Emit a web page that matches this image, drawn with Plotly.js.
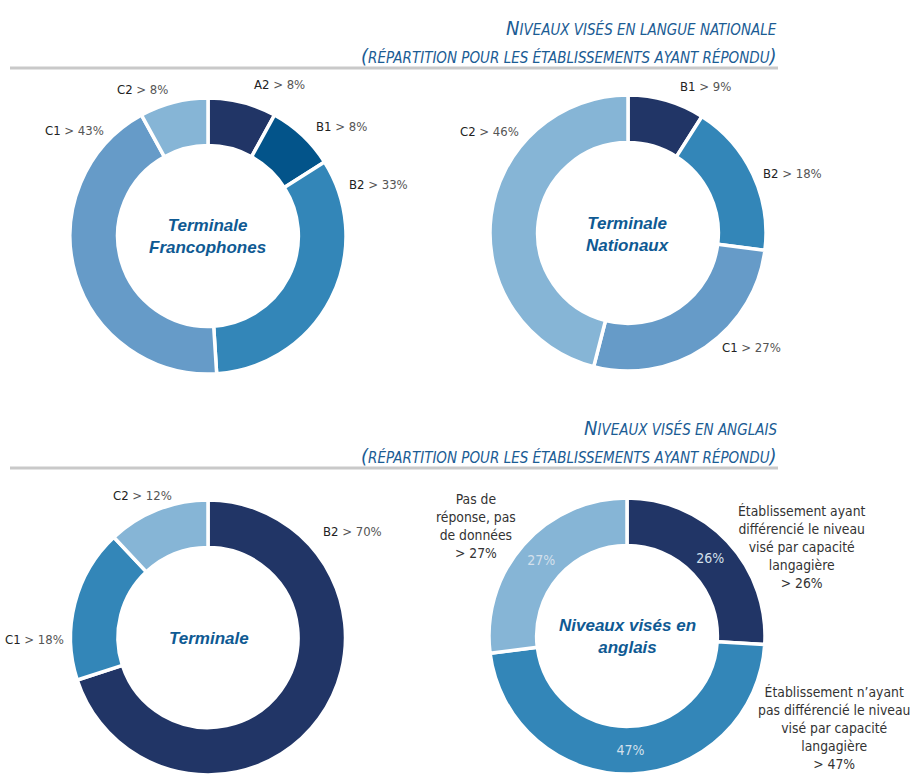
<!DOCTYPE html>
<html>
<head>
<meta charset="utf-8">
<script src="https://cdn.plot.ly/plotly-3.0.1.min.js"></script>
<style>html,body{margin:0;padding:0;background:#fff;overflow:hidden;}#chart{width:912px;height:775px;}</style>
</head>
<body>
<div id="chart"></div>
<script>
// ---- Data ----
const sectionTitles = [
  ['Niveaux visés en langue nationale', '(répartition pour les établissements ayant répondu)'],
  ['Niveaux visés en anglais', '(répartition pour les établissements ayant répondu)']
];

const centerTitle1 = 'Terminale<br>Francophones';
const labels1 = ['A2', 'B1', 'B2', 'C1', 'C2'];
const values1 = [8, 8, 33, 43, 8];

const centerTitle2 = 'Terminale<br>Nationaux';
const labels2 = ['B1', 'B2', 'C1', 'C2'];
const values2 = [9, 18, 27, 46];

const centerTitle3 = 'Terminale';
const labels3 = ['B2', 'C1', 'C2'];
const values3 = [70, 18, 12];

const centerTitle4 = 'Niveaux visés en<br>anglais';
const labels4 = [
  'Établissement ayant<br>différencié le niveau<br>visé par capacité<br>langagière',
  'Établissement n’ayant<br>pas différencié le niveau<br>visé par capacité<br>langagière',
  'Pas de<br>réponse, pas<br>de données'
];
const values4 = [26, 47, 27];

// ---- Styles ----
const W = 912, H = 775;
const NAVY = '#213566', DEEP = '#03548a', MID = '#3386b8', STEEL = '#669bc8', LIGHT = '#86b5d6';
const colors1 = [NAVY, DEEP, MID, STEEL, LIGHT];
const colors2 = [NAVY, MID, STEEL, LIGHT];
const colors3 = [NAVY, MID, LIGHT];
const colors4 = [NAVY, MID, LIGHT];
const NARROW = 'Liberation Sans Narrow, DejaVu Sans Condensed, Arial Narrow, sans-serif';
const TITLE_BLUE = '#1b5c94';

function px(x) { return x / W; }
function py(y) { return 1 - y / H; }

function donut(labels, values, colors, cx, cy, r, extra) {
  const t = {
    type: 'pie', labels: labels, values: values, sort: false, direction: 'clockwise', rotation: 0,
    hole: 0.655,
    marker: { colors: colors, line: { color: '#ffffff', width: 3.5 } },
    textinfo: 'none', hoverinfo: 'label+percent',
    domain: { x: [px(cx - r), px(cx + r)], y: [Math.max(0, py(cy + r)), Math.min(1, py(cy - r))] }
  };
  return Object.assign(t, extra || {});
}

const data = [
  donut(labels1, values1, colors1, 208, 236, 138),
  donut(labels2, values2, colors2, 628, 233, 138),
  donut(labels3, values3, colors3, 208, 638, 138),
  donut(labels4, values4, colors4, 627, 636, 138, {
    textinfo: 'percent', textposition: 'inside', insidetextorientation: 'horizontal',
    texttemplate: '%{value}%',
    insidetextfont: { family: NARROW, size: 14, color: '#d4e0ec' }
  })
];

const annotations = [];
function ann(x, y, text, font, extra) {
  annotations.push(Object.assign({
    xref: 'paper', yref: 'paper', x: px(x), y: py(y), text: text, showarrow: false,
    xanchor: 'center', yanchor: 'middle', font: font
  }, extra || {}));
}

// Section titles (small caps look)
function smallCaps(s, big, small) {
  const up = s.toUpperCase();
  let out = '';
  for (let i = 0; i < s.length; i++) {
    const ch = s[i];
    if (ch !== ch.toLowerCase() || ch === '(' || ch === ')') {
      out += '<span style="font-size:' + big + 'px">' + up[i] + '</span>';
    } else {
      out += up[i];
    }
  }
  return '<span style="font-size:' + small + 'px">' + out + '</span>';
}
const titleFont = { family: NARROW, size: 15, color: TITLE_BLUE, style: 'italic' };
const titleY = [[28, 56], [428, 456]];
sectionTitles.forEach(function (t, k) {
  ann(779, titleY[k][0], smallCaps(t[0], 20, 15), titleFont, { xanchor: 'right' });
  ann(779, titleY[k][1], smallCaps(t[1], 20, 15), titleFont, { xanchor: 'right' });
});

// Center titles
const centerFont = { family: 'Liberation Sans, Arial, sans-serif', size: 17, color: '#0f5a93', style: 'italic', weight: 'bold' };
ann(207, 237, centerTitle1, centerFont);
ann(628, 234, centerTitle2, centerFont);
ann(209, 638, centerTitle3, centerFont);
ann(627, 636, centerTitle4, centerFont);

// Outside slice labels
const labelFont = { family: NARROW, size: 13, color: '#555555' };
function lab(l, v) { return '<span style="color:#222222">' + l + '</span> > ' + v + '%'; }
const pos1 = [[279, 85], [341, 127], [378, 184], [74, 130], [142, 90]];
labels1.forEach(function (l, i) { ann(pos1[i][0], pos1[i][1], lab(l, values1[i]), labelFont); });
const pos2 = [[705, 86], [792, 174], [751, 347], [489, 132]];
labels2.forEach(function (l, i) { ann(pos2[i][0], pos2[i][1], lab(l, values2[i]), labelFont); });
const pos3 = [[352, 531], [34, 639], [142, 495]];
labels3.forEach(function (l, i) { ann(pos3[i][0], pos3[i][1], lab(l, values3[i]), labelFont); });

const bigLabelFont = { family: NARROW, size: 13.8, color: '#333333' };
const pos4 = [[801, 547], [834, 728], [476, 526]];
labels4.forEach(function (l, i) {
  ann(pos4[i][0], pos4[i][1], l + '<br>> ' + values4[i] + '%', bigLabelFont);
});

const shapes = [68, 468].map(function (y) {
  return { type: 'line', xref: 'paper', yref: 'paper', x0: px(10), x1: px(778), y0: py(y), y1: py(y),
           line: { color: '#c9c9c9', width: 3 } };
});

const layout = {
  width: W, height: H, margin: { l: 0, r: 0, t: 0, b: 0, pad: 0 },
  paper_bgcolor: '#ffffff', plot_bgcolor: '#ffffff', showlegend: false,
  annotations: annotations, shapes: shapes
};

Plotly.newPlot('chart', data, layout, { displayModeBar: false, staticPlot: true });
</script>
</body>
</html>
